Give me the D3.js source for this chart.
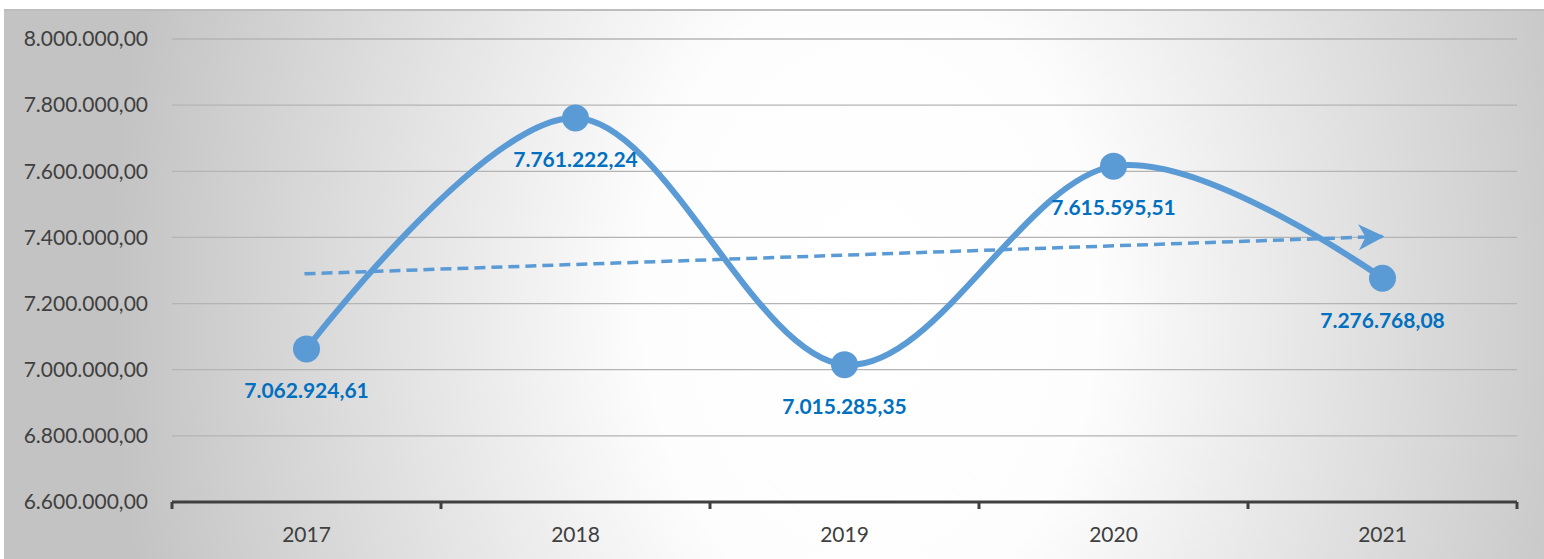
<!DOCTYPE html>
<html>
<head>
<meta charset="utf-8">
<script src="https://cdn.jsdelivr.net/npm/d3@7"></script>
<style>
  body { margin: 0; background: #fff; }
  text { font-family: Lato, "Open Sans", sans-serif; }
</style>
</head>
<body>
<script>
var w = 1544;
var h = 559;

var years = ["2017", "2018", "2019", "2020", "2021"];
var values = [7062924.61, 7761222.24, 7015285.35, 7615595.51, 7276768.08];
var labels = ["7.062.924,61", "7.761.222,24", "7.015.285,35", "7.615.595,51", "7.276.768,08"];
var yTicks = [6600000, 6800000, 7000000, 7200000, 7400000, 7600000, 7800000, 8000000];

var margin = {left: 172, right: 27, top: 39, bottom: 57};

var x = d3.scaleBand()
    .domain(years)
    .range([margin.left, w - margin.right]);

var y = d3.scaleLinear()
    .domain([6600000, 8000000])
    .range([h - margin.bottom, margin.top]);

// german style number format
var fmt = d3.formatLocale({decimal: ",", thousands: ".", grouping: [3], currency: ["", "€"]}).format(",.2f");

var svg = d3.select("body")
    .append("svg")
    .attr("width", w)
    .attr("height", h);

var defs = svg.append("defs");
var grad = defs.append("radialGradient")
    .attr("id", "bg")
    .attr("gradientUnits", "userSpaceOnUse")
    .attr("cx", 870).attr("cy", 300).attr("r", 760)
    .attr("gradientTransform", "translate(870,300) scale(1,1.4) translate(-870,-300)");
grad.append("stop").attr("offset", "0").attr("stop-color", "#ffffff");
grad.append("stop").attr("offset", "0.3").attr("stop-color", "#fdfdfd");
grad.append("stop").attr("offset", "1").attr("stop-color", "#c3c3c3");

defs.append("marker")
    .attr("id", "arrow")
    .attr("viewBox", "0 0 30 30")
    .attr("refX", 26).attr("refY", 15)
    .attr("markerWidth", 30).attr("markerHeight", 30)
    .attr("markerUnits", "userSpaceOnUse")
    .attr("orient", "auto")
    .append("path")
    .attr("d", "M2,2 L28,15 L2,28 L9,15 Z")
    .attr("fill", "#5b9bd5");

// background
svg.append("rect")
    .attr("x", 4).attr("y", 9)
    .attr("width", w - 4).attr("height", h - 9)
    .attr("fill", "url(#bg)");
svg.append("line")
    .attr("x1", 4).attr("x2", w).attr("y1", 10).attr("y2", 10)
    .attr("stroke", "#bdbdbd").attr("stroke-width", 2);

// gridlines
svg.selectAll(".grid")
    .data(yTicks.slice(1))
    .enter()
    .append("line")
    .attr("class", "grid")
    .attr("x1", margin.left).attr("x2", w - margin.right)
    .attr("y1", function(d) { return y(d); })
    .attr("y2", function(d) { return y(d); })
    .attr("stroke", "#b4b4b4")
    .attr("stroke-width", 1.3);

// y labels
svg.selectAll(".ylab")
    .data(yTicks)
    .enter()
    .append("text")
    .attr("class", "ylab")
    .attr("x", 148)
    .attr("y", function(d) { return y(d); })
    .attr("dy", "0.35em")
    .attr("text-anchor", "end")
    .attr("font-size", 21)
    .attr("fill", "#404040")
    .text(function(d) { return fmt(d); });

// x axis
var xAxis = svg.append("g")
    .attr("transform", "translate(0," + (h - margin.bottom) + ")");
xAxis.append("line")
    .attr("x1", margin.left).attr("x2", w - margin.right)
    .attr("stroke", "#404040").attr("stroke-width", 3);
var tickPos = years.map(function(d) { return x(d); }).concat([w - margin.right]);
xAxis.selectAll(".tick")
    .data(tickPos)
    .enter()
    .append("line")
    .attr("x1", function(d) { return d; })
    .attr("x2", function(d) { return d; })
    .attr("y1", 0).attr("y2", 7)
    .attr("stroke", "#404040").attr("stroke-width", 3);
xAxis.selectAll(".xlab")
    .data(years)
    .enter()
    .append("text")
    .attr("x", function(d) { return x(d) + x.bandwidth() / 2; })
    .attr("y", 33)
    .attr("dy", "0.35em")
    .attr("text-anchor", "middle")
    .attr("font-size", 21)
    .attr("fill", "#404040")
    .text(function(d) { return d; });

// linear trendline (least squares like excel)
var n = values.length;
var xs = d3.range(n);
var mx = d3.mean(xs), my = d3.mean(values);
var slope = d3.sum(xs, function(i) { return (i - mx) * (values[i] - my); }) /
            d3.sum(xs, function(i) { return (i - mx) * (i - mx); });
var icpt = my - slope * mx;
var cx = function(i) { return x(years[i]) + x.bandwidth() / 2; };

svg.append("line")
    .attr("x1", cx(0) - 2).attr("y1", y(icpt))
    .attr("x2", cx(n - 1)).attr("y2", y(icpt + slope * (n - 1)))
    .attr("stroke", "#5b9bd5")
    .attr("stroke-width", 3.5)
    .attr("stroke-dasharray", "11,6")
    .attr("marker-end", "url(#arrow)");

// smooth line
var line = d3.line()
    .x(function(d, i) { return cx(i); })
    .y(function(d) { return y(d); })
    .curve(d3.curveCardinal.tension(0));

svg.append("path")
    .datum(values)
    .attr("d", line)
    .attr("fill", "none")
    .attr("stroke", "#5b9bd5")
    .attr("stroke-width", 6)
    .attr("stroke-linecap", "round");

svg.selectAll(".dot")
    .data(values)
    .enter()
    .append("circle")
    .attr("cx", function(d, i) { return cx(i); })
    .attr("cy", function(d) { return y(d); })
    .attr("r", 13.5)
    .attr("fill", "#5b9bd5");

svg.selectAll(".vlab")
    .data(values)
    .enter()
    .append("text")
    .attr("x", function(d, i) { return cx(i); })
    .attr("y", function(d) { return y(d) + 42; })
    .attr("dy", "0.35em")
    .attr("text-anchor", "middle")
    .attr("font-size", 21)
    .attr("font-weight", "bold")
    .attr("fill", "#0070c0")
    .text(function(d, i) { return labels[i]; });
</script>
</body>
</html>
